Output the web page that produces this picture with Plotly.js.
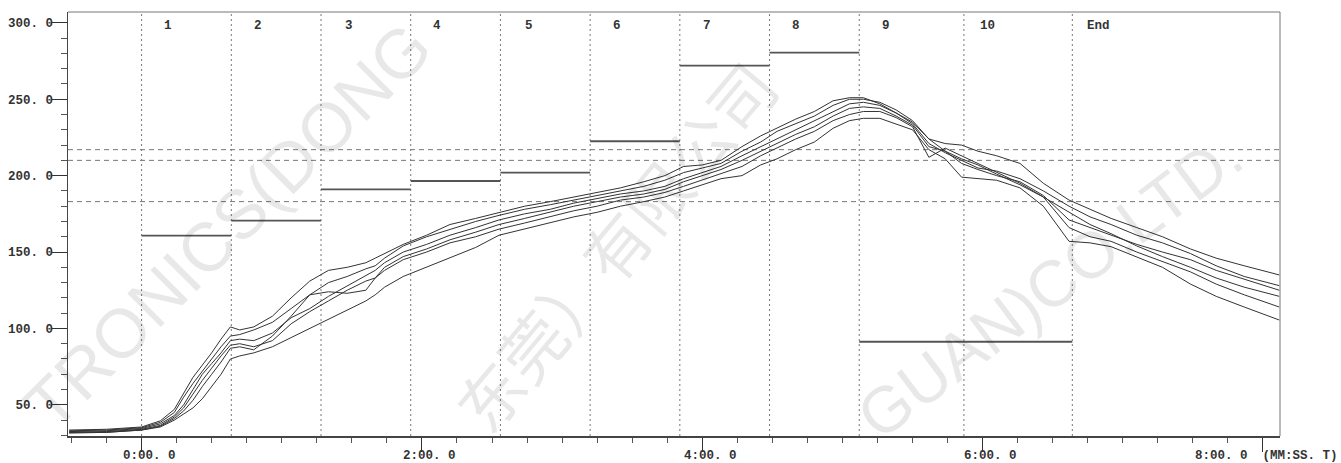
<!DOCTYPE html>
<html>
<head>
<meta charset="utf-8">
<script src="https://cdn.plot.ly/plotly-3.0.1.min.js"></script>
<style>html,body{margin:0;padding:0;background:#fff;}#chart{width:1341px;height:463px;}</style>
</head>
<body>
<div id="chart"></div>
<script>
// ---- data (time in seconds, temperature in deg C) ----
const timeSec = [-31,-15,0,8,14,18,22,26,30,34,38,42,48,56,64,72,80,88,96,100,104,112,122,132,143,153,164,175,185,195,205,215,224,232,240,248,257,265,272,280,288,296,303,309,316,323,330,337,344,351,358,366,376,386,397,406,415,426,437,449,460,472,487];
const probe1 = [33.5,34,35.5,39.5,47,58,68,76,84,93,101,99,101,108,120,131,138,140,143,146,149,155,161,168,172,176,180,183,186,189,192,196,200,206,207,210,219,226,231,237,242,249,251,251,247,241,235,224,216,211,207,201,194,186,176,168,162,154,147,140,133,127,121];
const probe2 = [33,33.5,35,38.5,45,55,64,72,80,88,95,96,99,104,113,122,130,134,139,141,146,154,160,165,170,174,178,181,184,187,190,193,197,202,205,208,216,222,229,234,239,246,250,250,248,243,236,224,221,220,216,213,208,195,184,178,172,166,160,152,146,141,135];
const probe3 = [32.5,33,34.5,37.5,43,50,60,70,77,84,92,93,92,97,107,113,121,128,135,138,143,150,155,161,166,171,175,178,182,185,188,190,193,198,202,206,213,219,224,230,236,242,247,248,246,241,234,221,215,210,205,203,198,190,180,173,168,161,156,149,141,134,128];
const probe4 = [32,32.5,34,36.5,42,48,57,66,74,82,89,90,88,92,103,111,118,125,131,133,140,147,152,158,163,168,172,176,180,183,186,188,191,196,200,204,210,216,221,227,232,239,244,245,244,239,233,219,216,208,204,200,196,187,171,166,161,155,150,145,138,132,125];
const probe5 = [32,32,33.5,36,41,46,53,62,70,78,87,88,86,95,108,122,124,123,125,133,138,145,150,156,160,165,169,173,177,180,184,186,189,193,197,201,206,213,218,224,229,236,240,242,242,238,232,212,218,213,208,202,195,186,166,160,157,150,144,137,129,122,114];
const probe6 = [31.5,32,33.5,35.5,40,44,48,54,62,70,80,82,84,88,94,100,106,112,118,122,127,134,140,146,153,161,165,169,173,176,180,183,186,190,194,198,200,207,211,217,222,231,236,237.5,237.5,234,230,217,211,199,198,197,192,180,157,156,153.5,147,140,129,121,114,105.5];

// oven zones
const zoneNames  = ['1','2','3','4','5','6','7','8','9','10','End'];
const zoneStart  = [0,38.4,76.8,115.2,153.6,192,230.4,268.8,307.2,352,398.4];
const labelX     = [8.7,47.2,86.2,123.8,163.2,201,239.5,277.5,316.2,358,403.8];
const setStart   = [0,38.4,76.8,115.2,153.6,192,230.4,268.8,307.2];
const setEnd     = [38.4,76.8,115.2,153.6,192,230.4,268.8,307.2,398.4];
const setTemp    = [160.7,170.5,191,196.5,202,222.5,272,280.5,91.3];
const refTemps   = [217,210,183];

// axis ticks
const xTickVals  = [0,120,240,360,480];
const xTickText  = ['0:00. 0','2:00. 0','4:00. 0','6:00. 0'];
const xLastText  = '8:00. 0  (MM:SS. T)';
const yTickVals  = [50,100,150,200,250,300];
const yTickText  = ['50. 0','100. 0','150. 0','200. 0','250. 0','300. 0'];
const xRange = [-31.5,487.3];
const yRange = [29.6,307.1];

// ---- build ----
const probes = [probe1,probe2,probe3,probe4,probe5,probe6];
const traces = probes.map(p => ({
  x: timeSec, y: p, type:'scatter', mode:'lines',
  line:{color:'#333', width:1}, hoverinfo:'skip'
}));

const shapes = [];
zoneStart.forEach(x => shapes.push({type:'line', xref:'x', yref:'paper', x0:x, x1:x, y0:0, y1:1,
  line:{color:'#777', width:1, dash:'2px,3px'}, layer:'below'}));
refTemps.forEach(y => shapes.push({type:'line', xref:'paper', yref:'y', x0:0, x1:1, y0:y, y1:y,
  line:{color:'#777', width:1, dash:'5px,4px'}, layer:'below'}));
setTemp.forEach((t,i) => shapes.push({type:'line', xref:'x', yref:'y', x0:setStart[i], x1:setEnd[i], y0:t, y1:t,
  line:{color:'#555', width:1.8}}));
shapes.push({type:'line', xref:'paper', yref:'paper', x0:0, x1:1, y0:1, y1:1, line:{color:'#777', width:1}});
shapes.push({type:'line', xref:'paper', yref:'paper', x0:1, x1:1, y0:0, y1:1, line:{color:'#777', width:1}});

const mono = 'Liberation Mono, Courier New, monospace';
const tickFont = {family:mono, size:12.5, color:'#333', weight:'bold'};
const labelY = -0.046;
const annotations = zoneNames.map((n,i) => ({
  x: labelX[i], y: 298, xref:'x', yref:'y', text:n, showarrow:false,
  xanchor:'left', yanchor:'middle', font:tickFont
}));
xTickText.forEach((t,i) => annotations.push({x:xTickVals[i], y:labelY, xref:'x', yref:'paper',
  xanchor:'center', yanchor:'middle', xshift:8, text:t, showarrow:false, font:tickFont}));
annotations.push({x:1.0495, y:labelY, xref:'paper', yref:'paper', xanchor:'right', yanchor:'middle',
  text:xLastText, showarrow:false, font:tickFont});
// watermark (kept inside the page)
const wm = 'rgba(0,0,0,0.09)';
annotations.push({x:0.132, y:0.494, xref:'paper', yref:'paper', xanchor:'center', yanchor:'middle',
  text:'TRONICS(DONG', showarrow:false, textangle:-45, font:{family:'Liberation Sans, Arial', size:69, color:wm}});
annotations.push({x:0.451, y:0.45, xref:'paper', yref:'paper', xanchor:'center', yanchor:'middle',
  text:'东莞）有限公司', showarrow:false, textangle:-50, font:{family:'Noto Sans CJK SC', size:65, color:wm}});
annotations.push({x:0.81, y:0.356, xref:'paper', yref:'paper', xanchor:'center', yanchor:'middle',
  text:'GUAN)CO.LTD.', showarrow:false, textangle:-37, font:{family:'Liberation Sans, Arial', size:65, color:wm}});

const layout = {
  width:1341, height:463,
  margin:{l:68, r:61, t:12, b:27, pad:0},
  paper_bgcolor:'#fff', plot_bgcolor:'#fff',
  showlegend:false,
  xaxis:{range:xRange, tickvals:xTickVals, ticktext:['','','','',''], ticks:'outside', ticklen:14,
    tickcolor:'#333', tickwidth:1, showline:true, linecolor:'#444', linewidth:1.5,
    showgrid:false, zeroline:false, tickfont:tickFont,
    minor:{tick0:0, dtick:15, ticks:'outside', ticklen:5, tickcolor:'#555', tickwidth:1, showgrid:false}},
  yaxis:{range:yRange, tickvals:yTickVals, ticktext:yTickText, ticks:'outside', ticklen:16,
    tickcolor:'#333', tickwidth:1, showline:true, linecolor:'#444', linewidth:1.5,
    showgrid:false, zeroline:false, tickfont:tickFont, ticklabelstandoff:-5,
    minor:{tick0:0, dtick:10, ticks:'outside', ticklen:6, tickcolor:'#555', tickwidth:1, showgrid:false}},
  shapes:shapes, annotations:annotations
};
Plotly.newPlot('chart', traces, layout, {staticPlot:true, displayModeBar:false});
</script>
</body>
</html>
